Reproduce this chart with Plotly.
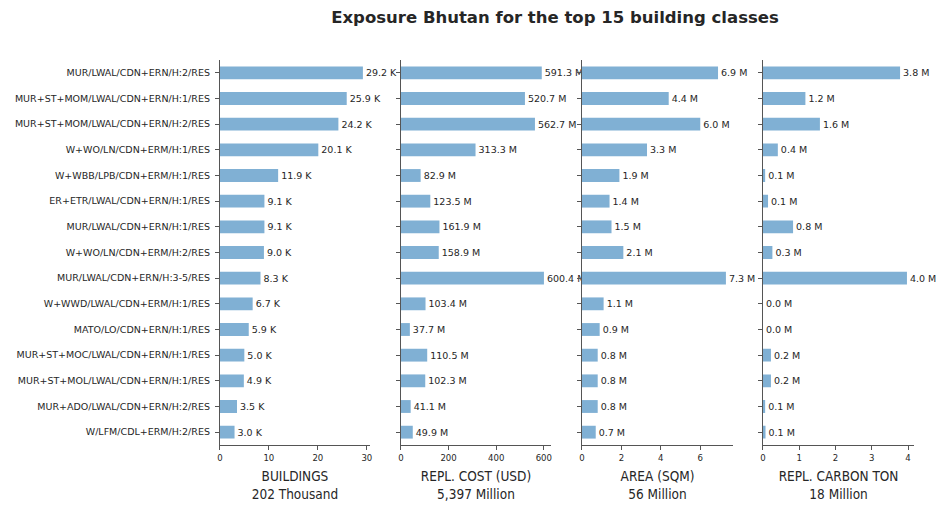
import plotly.graph_objects as go

# ---------------- data ----------------
categories = [
    "MUR/LWAL/CDN+ERN/H:2/RES",
    "MUR+ST+MOM/LWAL/CDN+ERN/H:1/RES",
    "MUR+ST+MOM/LWAL/CDN+ERN/H:2/RES",
    "W+WO/LN/CDN+ERM/H:1/RES",
    "W+WBB/LPB/CDN+ERM/H:1/RES",
    "ER+ETR/LWAL/CDN+ERN/H:1/RES",
    "MUR/LWAL/CDN+ERN/H:1/RES",
    "W+WO/LN/CDN+ERM/H:2/RES",
    "MUR/LWAL/CDN+ERN/H:3-5/RES",
    "W+WWD/LWAL/CDN+ERM/H:1/RES",
    "MATO/LO/CDN+ERN/H:1/RES",
    "MUR+ST+MOC/LWAL/CDN+ERN/H:1/RES",
    "MUR+ST+MOL/LWAL/CDN+ERN/H:1/RES",
    "MUR+ADO/LWAL/CDN+ERN/H:2/RES",
    "W/LFM/CDL+ERM/H:2/RES",
]
buildings_k = [29.2, 25.9, 24.2, 20.1, 11.9, 9.1, 9.1, 9.0, 8.3, 6.7, 5.9, 5.0, 4.9, 3.5, 3.0]
cost_musd = [591.3, 520.7, 562.7, 313.3, 82.9, 123.5, 161.9, 158.9, 600.4, 103.4, 37.7, 110.5, 102.3, 41.1, 49.9]
area_msqm = [6.9, 4.4, 6.0, 3.3, 1.9, 1.4, 1.5, 2.1, 7.3, 1.1, 0.9, 0.8, 0.8, 0.8, 0.7]
carbon_mton = [3.78, 1.17, 1.57, 0.41, 0.06, 0.14, 0.83, 0.26, 3.97, 0.0, 0.0, 0.22, 0.22, 0.06, 0.07]

panel_titles = ["BUILDINGS", "REPL. COST (USD)", "AREA (SQM)", "REPL. CARBON TON"]
panel_totals = ["202 Thousand", "5,397 Million", "56 Million", "18 Million"]
unit_suffix = ["K", "M", "M", "M"]
x_tickvals = [[0, 10, 20, 30], [0, 200, 400, 600], [0, 2, 4, 6], [0, 1, 2, 3, 4]]
title_text = "Exposure Bhutan for the top 15 building classes"

series = [buildings_k, cost_musd, area_msqm, carbon_mton]

# ---------------- layout geometry ----------------
W, H = 946, 510
panel_px = [(218, 369), (400, 551), (582, 734), (764, 916)]
y_px = (60, 445)

BAR_COLOR = "#80b0d4"
TEXT_COLOR = "#262626"
AXIS_COLOR = "#555555"
NARROW = "Liberation Sans Narrow, DejaVu Sans Condensed, Arial Narrow, sans-serif"

fig = go.Figure()
layout = dict(
    width=W, height=H,
    margin=dict(l=0, r=0, t=0, b=0),
    paper_bgcolor="white", plot_bgcolor="white",
    showlegend=False,
    font=dict(family="DejaVu Sans", color=TEXT_COLOR),
    bargap=0.5,
    title=dict(text="<b>" + title_text + "</b>", x=555 / W, xanchor="center",
               y=1 - 17 / H, yanchor="middle", yref="container",
               font=dict(size=16.5, family="DejaVu Sans", color=TEXT_COLOR)),
)

for i, vals in enumerate(series):
    n = "" if i == 0 else str(i + 1)
    fig.add_trace(go.Bar(
        x=vals, y=categories, orientation="h",
        marker=dict(color=BAR_COLOR, line=dict(width=0)),
        text=[f"{v:.1f} {unit_suffix[i]}" for v in vals],
        textposition="outside", cliponaxis=False, constraintext="none",
        textfont=dict(size=9.5, color=TEXT_COLOR, family="DejaVu Sans"),
        xaxis="x" + n, yaxis="y" + n, hoverinfo="skip",
    ))
    x0, x1 = panel_px[i]
    layout["xaxis" + n] = dict(
        domain=[x0 / W, x1 / W], anchor="y" + n,
        range=[0, max(vals) * 1.05],
        tickvals=x_tickvals[i], ticks="outside", ticklen=4, tickwidth=1,
        tickcolor=AXIS_COLOR, showline=True, linecolor=AXIS_COLOR, linewidth=1,
        showgrid=False, zeroline=False,
        tickfont=dict(size=9.5, family=NARROW, color=TEXT_COLOR),
        title=dict(text=panel_titles[i] + "<br>" + panel_totals[i], standoff=9,
                   font=dict(size=13.5, family=NARROW, color=TEXT_COLOR)),
    )
    layout["yaxis" + n] = dict(
        domain=[1 - y_px[1] / H, 1 - y_px[0] / H], anchor="x" + n,
        type="category", categoryorder="array", categoryarray=categories,
        autorange="reversed",
        ticks="outside", ticklen=4, tickwidth=1, tickcolor=AXIS_COLOR,
        showline=True, linecolor=AXIS_COLOR, linewidth=1,
        showgrid=False, zeroline=False,
        showticklabels=(i == 0), ticklabelstandoff=3,
        tickfont=dict(size=9.5, family="DejaVu Sans", color=TEXT_COLOR),
    )

fig.update_layout(**layout)
fig.write_html("out.html")
